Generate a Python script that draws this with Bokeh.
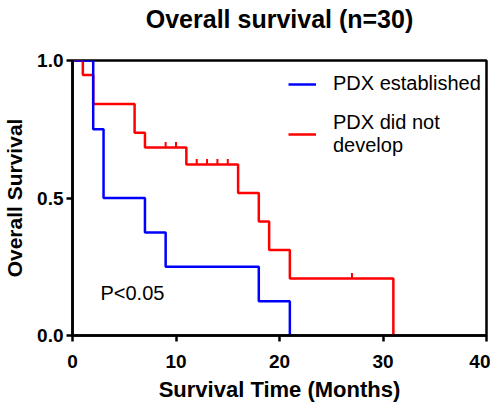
from bokeh.plotting import figure
from bokeh.models import Range1d, FixedTicker, Legend, LegendItem, Label, NumeralTickFormatter
from bokeh.embed import file_html
from bokeh.resources import INLINE

# ---- data ----
title_text = "Overall survival (n=30)"
x_label = "Survival Time (Months)"
y_label = "Overall Survival"
x_ticks = [0, 10, 20, 30, 40]
y_ticks = [0.0, 0.5, 1.0]

est_name = "PDX established"
est_time = [0, 2, 3, 7, 9, 18, 21]
est_surv = [1.0, 0.75, 0.5, 0.375, 0.25, 0.125, 0.0]

nodev_name = "PDX did not\ndevelop"
nodev_time = [0, 1, 2, 6, 7, 11, 16, 18, 19, 21, 31]
nodev_surv = [1.0, 0.947, 0.842, 0.737, 0.684, 0.622, 0.518, 0.415, 0.311, 0.207, 0.0]
nodev_cens_time = [9, 10, 12, 13, 14, 15, 27]
nodev_cens_surv = [0.684, 0.684, 0.622, 0.622, 0.622, 0.622, 0.207]

p_text = "P<0.05"

FONT = "Liberation Sans"
BLUE = "#0000ff"
RED = "#ff0000"

p = figure(frame_width=414, frame_height=275, output_backend="svg", toolbar_location=None,
           x_range=Range1d(0, 40), y_range=Range1d(0, 1),
           min_border_left=71, min_border_right=4, min_border_top=60, min_border_bottom=0)

# trailing empty line lifts the title well above the frame, as in the reference
p.title.text = title_text + "\n"
p.title.text_font = FONT
p.title.text_font_size = "25px"
p.title.text_font_style = "bold"
p.title.text_color = "black"
p.title.align = "center"
p.title.vertical_align = "bottom"
p.title.standoff = 0

p.xgrid.visible = False
p.ygrid.visible = False
p.outline_line_color = "black"
p.outline_line_width = 2.5
p.background_fill_color = "white"
p.border_fill_color = "white"

for ax in (p.xaxis[0], p.yaxis[0]):
    ax.axis_line_width = 2.5
    ax.axis_line_color = "black"
    ax.major_tick_line_width = 2.5
    ax.major_tick_line_color = "black"
    ax.major_tick_out = 6
    ax.major_tick_in = 0
    ax.minor_tick_line_color = None
    ax.major_label_text_font = FONT
    ax.major_label_text_font_style = "bold"
    ax.major_label_text_font_size = "19px"
    ax.major_label_text_color = "black"
    ax.axis_label_text_font = FONT
    ax.axis_label_text_font_style = "bold"
    ax.axis_label_text_color = "black"

p.xaxis[0].ticker = FixedTicker(ticks=x_ticks)
p.yaxis[0].ticker = FixedTicker(ticks=y_ticks)
p.yaxis[0].formatter = NumeralTickFormatter(format="0.0")
p.xaxis[0].axis_label = x_label
p.yaxis[0].axis_label = y_label
p.xaxis[0].axis_label_text_font_size = "22px"
p.yaxis[0].axis_label_text_font_size = "21px"
p.xaxis[0].major_label_standoff = 13
p.xaxis[0].axis_label_standoff = 6
p.yaxis[0].major_label_standoff = 3
p.yaxis[0].axis_label_standoff = 8

# curves
r_red = p.step(nodev_time, nodev_surv, mode="after", line_color=RED, line_width=2.5)
p.segment(x0=nodev_cens_time, y0=nodev_cens_surv, x1=nodev_cens_time,
          y1=[s + 0.02 for s in nodev_cens_surv], line_color=RED, line_width=2)
r_blue = p.step(est_time, est_surv, mode="after", line_color=BLUE, line_width=2.5)

legend = Legend(items=[LegendItem(label=est_name, renderers=[r_blue]),
                       LegendItem(label=nodev_name, renderers=[r_red])],
                location=(216, 178), orientation="vertical",
                border_line_color=None, background_fill_alpha=0,
                label_text_font=FONT, label_text_font_size="20px",
                label_text_color="black",
                glyph_width=28, glyph_height=20, label_standoff=17,
                spacing=16, padding=0, margin=0)
p.add_layout(legend)

p.add_layout(Label(x=2.7, y=0.153, text=p_text, text_font=FONT, text_font_size="20px",
                   text_baseline="middle", text_align="left", text_color="black"))

open("out.html", "w").write(file_html(p, INLINE))
